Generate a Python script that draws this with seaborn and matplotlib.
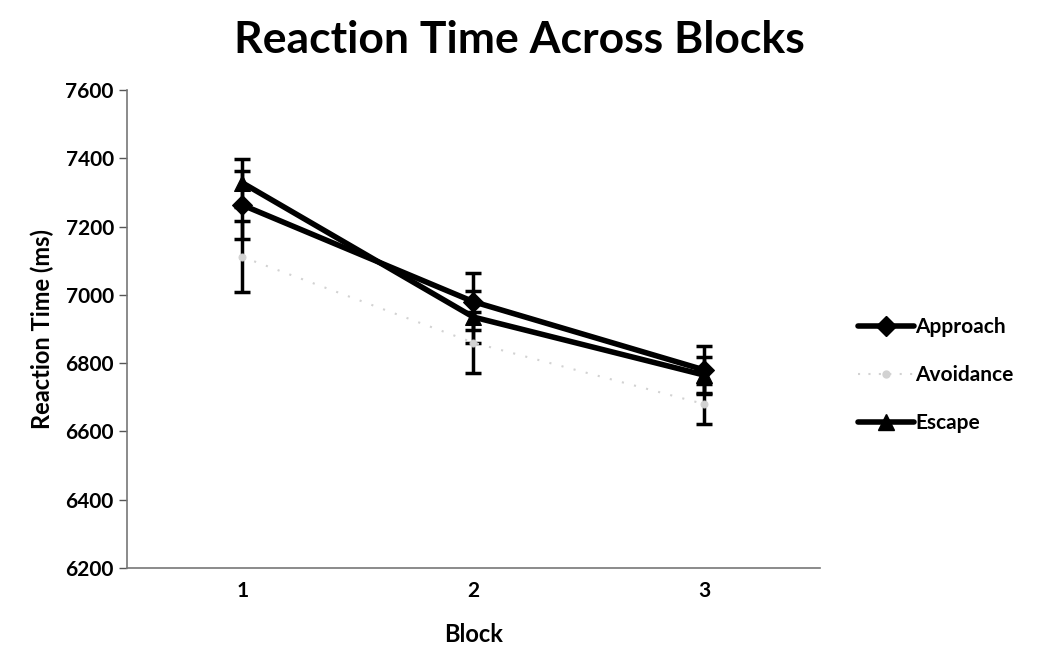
import numpy as np
import pandas as pd
import seaborn as sns
import matplotlib.pyplot as plt
from matplotlib.lines import Line2D

blocks = [1, 2, 3]
approach = [7263, 6980, 6780]
approach_err = [100, 84, 70]
avoidance = [7111, 6860, 6680]
avoidance_err = [104, 90, 58]
escape = [7328, 6935, 6765]
escape_err = [70, 76, 53]
yticks = [6200, 6400, 6600, 6800, 7000, 7200, 7400, 7600]

series = ["Approach", "Avoidance", "Escape"]
df = pd.DataFrame({
    "Block": blocks * 3,
    "RT": approach + avoidance + escape,
    "err": approach_err + avoidance_err + escape_err,
    "Condition": np.repeat(series, 3),
})

sns.set_style("white")
plt.rcParams["font.family"] = ["Lato", "DejaVu Sans"]
plt.rcParams["text.color"] = "black"
plt.rcParams["axes.labelcolor"] = "black"

colors = {"Approach": "black", "Avoidance": "#d2d2d2", "Escape": "black"}
markers = {"Approach": "D", "Avoidance": "o", "Escape": "^"}
msizes = {"Approach": 10, "Avoidance": 5, "Escape": 12}

fig = plt.figure(figsize=(10.39, 6.55), dpi=100)
ax = fig.add_axes([0.1222, 0.1328, 0.6668, 0.7298])

for name in series:
    d = df[df["Condition"] == name]
    # all error bars are drawn in black in the original
    ax.errorbar(d["Block"], d["RT"], yerr=d["err"], fmt="none",
                ecolor="black", elinewidth=2.5, capsize=6, capthick=2.5, zorder=2)
    ls = (0, (1, 5)) if name == "Avoidance" else "-"
    sns.lineplot(data=d, x="Block", y="RT", ax=ax, color=colors[name],
                 marker=markers[name], markersize=msizes[name],
                 markeredgecolor=colors[name], linewidth=4 if name != "Avoidance" else 1.5,
                 linestyle=ls, zorder=3, legend=False)

ax.set_xlim(0.5, 3.5)
ax.set_ylim(6200, 7600)
ax.set_yticks(yticks)
ax.set_xticks(blocks)
ax.set_xticks([1.5, 2.5, 3.5], minor=True)
ax.tick_params(axis="x", which="major", length=0, pad=9, labelcolor="black")
ax.tick_params(axis="x", which="minor", length=6, width=1, direction="out", color="#555555")
ax.tick_params(axis="y", length=6, width=1, direction="out", color="#555555", left=True,
               labelcolor="black")
for lab in ax.get_xticklabels() + ax.get_yticklabels():
    lab.set_fontsize(15)
    lab.set_fontweight("bold")

sns.despine(ax=ax)
for s in ["left", "bottom"]:
    ax.spines[s].set_color("#777777")
    ax.spines[s].set_linewidth(1.2)

ax.set_xlabel("Block", fontsize=17, fontweight="bold", labelpad=16)
ax.set_ylabel("Reaction Time (ms)", fontsize=17, fontweight="bold", labelpad=8)
fig.suptitle("Reaction Time Across Blocks", fontsize=32, fontweight="bold", x=0.5, y=0.97)

handles = [Line2D([], [], color=colors[n], marker=markers[n], markersize=msizes[n],
                  linewidth=4 if n != "Avoidance" else 1.5,
                  linestyle=(0, (1, 4)) if n == "Avoidance" else "-") for n in series]
leg = fig.legend(handles, series, loc="center left", bbox_to_anchor=(0.826, 0.427),
                 frameon=False, fontsize=15, handlelength=2.7, handletextpad=0.05,
                 labelspacing=1.35, borderpad=0, borderaxespad=0)
for t in leg.get_texts():
    t.set_fontweight("bold")

fig.savefig("out.png", dpi=100)
